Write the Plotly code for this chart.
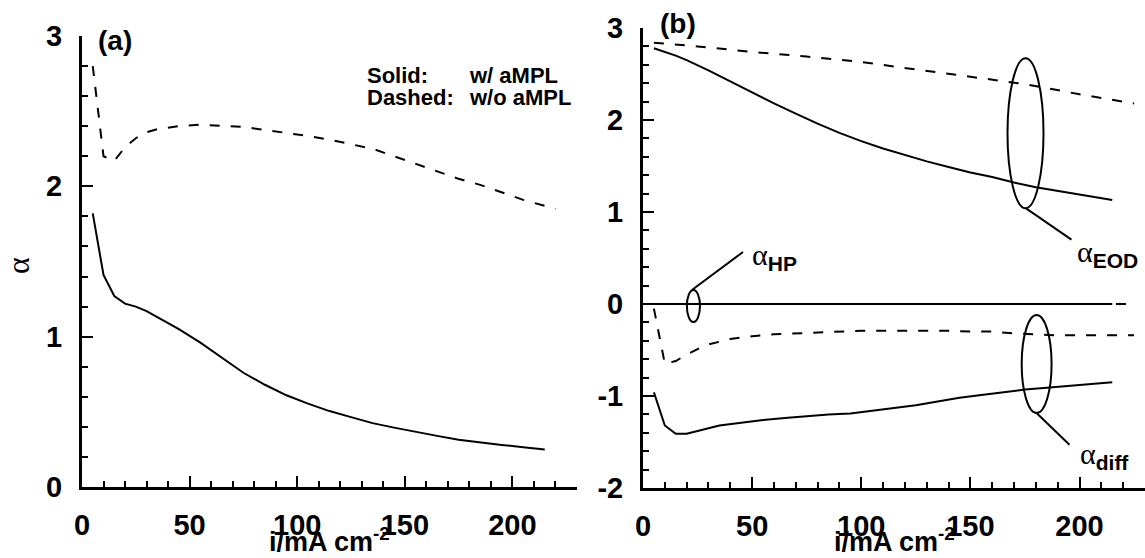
import plotly.graph_objects as go

# ---------------- data ----------------
# (a) total alpha vs current density
i_a_solid = [5, 10, 15, 20, 25, 30, 35, 45, 55, 65, 75, 85, 95, 105, 115, 125,
             135, 145, 155, 165, 175, 185, 195, 205, 215]
alpha_a_solid = [1.82, 1.41, 1.27, 1.22, 1.20, 1.17, 1.13, 1.05, 0.96, 0.86, 0.76,
                 0.68, 0.61, 0.555, 0.505, 0.465, 0.425, 0.395, 0.365, 0.34, 0.315,
                 0.295, 0.28, 0.265, 0.25]
i_a_dashed = [5, 10, 15, 20, 25, 30, 35, 45, 55, 65, 75, 85, 95, 105, 115, 125,
              135, 145, 155, 165, 175, 185, 195, 205, 220]
alpha_a_dashed = [2.80, 2.20, 2.17, 2.26, 2.32, 2.36, 2.38, 2.40, 2.41, 2.405, 2.395,
                  2.375, 2.355, 2.335, 2.31, 2.28, 2.25, 2.20, 2.15, 2.10, 2.05,
                  2.01, 1.96, 1.91, 1.85]

# (b) components: electro-osmotic drag, hydraulic permeation, diffusion
i_eod_solid = [5, 10, 15, 20, 30, 40, 50, 60, 70, 80, 90, 100, 110, 120, 130, 140,
               150, 160, 170, 180, 190, 200, 215]
eod_solid = [2.78, 2.74, 2.70, 2.65, 2.54, 2.42, 2.30, 2.18, 2.07, 1.96, 1.86, 1.77,
             1.69, 1.62, 1.55, 1.49, 1.43, 1.38, 1.32, 1.27, 1.23, 1.19, 1.13]
i_eod_dashed = [5, 25, 50, 75, 100, 125, 150, 175, 200, 225]
eod_dashed = [2.84, 2.80, 2.74, 2.69, 2.63, 2.55, 2.47, 2.39, 2.28, 2.18]

i_hp_solid = [5, 215]
hp_solid = [0.0, 0.0]
i_hp_dashed = [5, 225]
hp_dashed = [0.0, 0.0]

i_diff_solid = [5, 10, 15, 20, 25, 30, 35, 45, 55, 65, 75, 85, 95, 105, 115, 125,
                135, 145, 155, 165, 175, 185, 195, 205, 215]
diff_solid = [-0.96, -1.32, -1.41, -1.41, -1.38, -1.35, -1.32, -1.29, -1.26, -1.24,
              -1.22, -1.20, -1.19, -1.16, -1.13, -1.10, -1.06, -1.02, -0.99, -0.96,
              -0.93, -0.91, -0.89, -0.87, -0.85]
i_diff_dashed = [5, 10, 15, 20, 25, 30, 40, 50, 60, 70, 80, 90, 100, 120, 140, 150,
                 160, 170, 180, 190, 200, 225]
diff_dashed = [-0.05, -0.65, -0.62, -0.55, -0.49, -0.44, -0.38, -0.35, -0.33, -0.32,
               -0.31, -0.30, -0.29, -0.29, -0.29, -0.30, -0.30, -0.32, -0.33, -0.34,
               -0.34, -0.34]

x_ticks = [0, 50, 100, 150, 200]
x_ticktext = ["0", "50", "100", "150", "200"]
ya_ticks = [0, 1, 2, 3]
ya_ticktext = ["0", "1", "2", "3"]
yb_ticks = [-2, -1, 0, 1, 2, 3]
yb_ticktext = ["-2", "-1", "0", "1", "2", "3"]

# ---------------- figure ----------------
W, H = 1145, 558
SANS = "Liberation Sans"
SERIF = "Liberation Serif"
DASH = "10px,11px"


def px(x):
    return x / W


def py(y):
    return 1 - y / H


fig = go.Figure()


def add_line(x, y, dashed, xa, ya):
    fig.add_trace(go.Scatter(
        x=x, y=y, mode="lines", xaxis=xa, yaxis=ya, showlegend=False,
        line=dict(color="black", width=2, dash=DASH if dashed else "solid"),
        hoverinfo="skip"))


add_line(i_a_solid, alpha_a_solid, False, "x", "y")
add_line(i_a_dashed, alpha_a_dashed, True, "x", "y")
add_line(i_hp_solid, hp_solid, False, "x2", "y2")
add_line(i_hp_dashed, hp_dashed, True, "x2", "y2")
add_line(i_eod_solid, eod_solid, False, "x2", "y2")
add_line(i_eod_dashed, eod_dashed, True, "x2", "y2")
add_line(i_diff_solid, diff_solid, False, "x2", "y2")
add_line(i_diff_dashed, diff_dashed, True, "x2", "y2")

tickfont = dict(family=SANS, size=29, color="black", weight="bold")
common = dict(
    showline=True, linewidth=3, linecolor="black", mirror=False,
    showgrid=False, zeroline=False, ticks="inside", ticklen=11, tickwidth=2,
    tickcolor="black", tickfont=tickfont, automargin=False,
)
minor_x = dict(ticks="inside", ticklen=6, tickwidth=1.5, dtick=10,
               tick0=0, tickcolor="black", showgrid=False)
minor_y = dict(ticks="inside", ticklen=6, tickwidth=1.5, dtick=0.2,
               tick0=0, tickcolor="black", showgrid=False)

fig.update_layout(
    width=W, height=H, template="none",
    margin=dict(l=0, r=0, t=0, b=0),
    paper_bgcolor="white", plot_bgcolor="white",
    showlegend=False,
    xaxis=dict(domain=[px(82), px(577)], range=[0, 230], anchor="y",
               tickvals=x_ticks, ticktext=x_ticktext, ticklabelstandoff=10,
               minor=minor_x, **common),
    yaxis=dict(domain=[py(487), py(36)], range=[0, 3], anchor="x",
               tickvals=ya_ticks, ticktext=ya_ticktext, ticklabelstandoff=11,
               minor=minor_y, **common),
    xaxis2=dict(domain=[px(643), 1.0], range=[0, 230], anchor="y2",
                tickvals=x_ticks, ticktext=x_ticktext, ticklabelstandoff=10,
                minor=minor_x, **common),
    yaxis2=dict(domain=[py(488), py(28)], range=[-2, 3], anchor="x2",
                tickvals=yb_ticks, ticktext=yb_ticktext, ticklabelstandoff=11,
                minor=minor_y, **common),
)

annotations = []


def text(x, y, s, size, xanchor="left", yanchor="middle", family=SANS,
         bold=True, angle=0):
    annotations.append(dict(
        x=px(x), y=py(y), xref="paper", yref="paper", text=s, showarrow=False,
        xanchor=xanchor, yanchor=yanchor, textangle=angle,
        font=dict(family=family, size=size, color="black",
                  weight="bold" if bold else "normal")))


# panel tags
text(96, 40, "(a)", 28)
text(658, 24, "(b)", 28)

# line style key
text(365, 75, "Solid:", 22)
text(365, 97, "Dashed:", 22)
text(467, 75, "w/ aMPL", 22)
text(467, 97, "w/o aMPL", 22)

# axis titles
text(329, 559, "i/mA cm<sup>-2</sup>", 27, xanchor="center", yanchor="bottom")
text(894, 559, "i/mA cm<sup>-2</sup>", 27, xanchor="center", yanchor="bottom")
text(18, 266, "α", 32, xanchor="center", family=SERIF, bold=False, angle=-90)


def alpha_label(x, y, sub):
    annotations.append(dict(
        x=px(x), y=py(y), xref="paper", yref="paper", showarrow=False,
        xanchor="left", yanchor="middle",
        text=("<span style=\"font-family:'Liberation Serif';font-weight:normal\">α</span>"
              "<sub>" + sub + "</sub>"),
        font=dict(family=SANS, size=30, color="black", weight="bold")))


alpha_label(750, 256, "HP")
alpha_label(1075, 254, "EOD")
alpha_label(1078, 455, "diff")

fig.update_layout(annotations=annotations)

# callout ellipses with leader lines
shapes = []
sh_line = dict(color="black", width=2)
for (x0, x1, y0, y1) in [(167.0, 183.5, 1.04, 2.67),
                         (20.1, 26.1, -0.196, 0.152),
                         (173.5, 187.2, -1.185, -0.12)]:
    shapes.append(dict(type="circle", xref="x2", yref="y2",
                       x0=x0, x1=x1, y0=y0, y1=y1, line=sh_line))
for (x0, y0, x1, y1) in [(175.5, 1.04, 196.3, 0.70),
                         (22.4, 0.152, 45.8, 0.565),
                         (180.3, -1.185, 195.4, -1.53)]:
    shapes.append(dict(type="line", xref="x2", yref="y2",
                       x0=x0, y0=y0, x1=x1, y1=y1, line=sh_line))
fig.update_layout(shapes=shapes)

fig.write_html("out.html")
